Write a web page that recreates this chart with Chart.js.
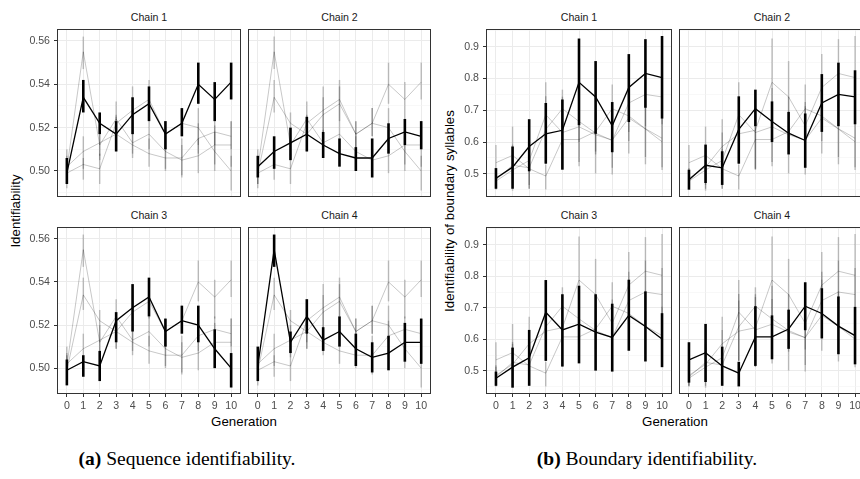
<!DOCTYPE html>
<html>
<head>
<meta charset="utf-8">
<script src="https://cdn.jsdelivr.net/npm/chart.js@4.4.1/dist/chart.umd.min.js"></script>
<style>
  body { margin: 0; background: #fff; width: 860px; height: 479px; overflow: hidden; position: relative;
         font-family: "Liberation Sans", Arial, sans-serif; }
  canvas { position: absolute; }
  .strip { position: absolute; font-size: 10.6px; color: #1a1a1a; transform: translateX(-50%); white-space: nowrap; }
  .xtitle { position: absolute; font-size: 13.3px; color: #000; transform: translateX(-50%); white-space: nowrap; }
  .ytitle { position: absolute; font-size: 13.3px; color: #000; white-space: nowrap;
            transform: translate(-50%, -50%) rotate(-90deg); }
  .caption { position: absolute; font-family: "Liberation Serif", "DejaVu Serif", serif; font-size: 19.5px; color: #000;
             white-space: nowrap; transform: translateX(-50%); }
  .caption b { font-weight: bold; }
</style>
</head>
<body>
<div class="ytitle" style="left:15px; top:211px;">Identifiability</div>
<div class="ytitle" style="left:449px; top:211px;">Identifiability of boundary syllables</div>
<div class="xtitle" style="left:244px; top:414px;">Generation</div>
<div class="xtitle" style="left:675px; top:414px;">Generation</div>
<div class="caption" style="left:187px; top:448px;"><b>(a)</b> Sequence identifiability.</div>
<div class="caption" style="left:647px; top:448px;"><b>(b)</b> Boundary identifiability.</div>

<script>
const generations = [0, 1, 2, 3, 4, 5, 6, 7, 8, 9, 10];
const chainLabels = ['Chain 1', 'Chain 2', 'Chain 3', 'Chain 4'];

// (a) sequence identifiability, one row per chain
const seqMean = [
  [0.499, 0.534, 0.522, 0.517, 0.526, 0.531, 0.517, 0.522, 0.540, 0.533, 0.541],
  [0.502, 0.509, 0.513, 0.517, 0.512, 0.508, 0.506, 0.506, 0.515, 0.518, 0.516],
  [0.499, 0.503, 0.501, 0.522, 0.528, 0.533, 0.517, 0.522, 0.520, 0.509, 0.500],
  [0.501, 0.555, 0.512, 0.524, 0.513, 0.517, 0.509, 0.505, 0.507, 0.512, 0.512]
];
const seqLow = [
  [0.494, 0.527, 0.517, 0.509, 0.517, 0.523, 0.510, 0.516, 0.531, 0.523, 0.533],
  [0.497, 0.501, 0.505, 0.509, 0.506, 0.502, 0.500, 0.497, 0.508, 0.512, 0.510],
  [0.492, 0.496, 0.494, 0.512, 0.517, 0.524, 0.510, 0.516, 0.512, 0.500, 0.491],
  [0.494, 0.547, 0.507, 0.516, 0.508, 0.510, 0.501, 0.498, 0.499, 0.503, 0.502]
];
const seqHigh = [
  [0.506, 0.542, 0.527, 0.523, 0.534, 0.539, 0.523, 0.529, 0.550, 0.541, 0.550],
  [0.507, 0.516, 0.520, 0.525, 0.518, 0.515, 0.511, 0.515, 0.522, 0.524, 0.523],
  [0.504, 0.506, 0.508, 0.526, 0.539, 0.542, 0.523, 0.529, 0.529, 0.518, 0.507],
  [0.510, 0.562, 0.517, 0.532, 0.519, 0.524, 0.516, 0.512, 0.515, 0.521, 0.523]
];
const seqTicks = [0.49, 0.50, 0.51, 0.52, 0.53, 0.54, 0.55, 0.56];
const seqLabels = [0.50, 0.52, 0.54, 0.56];

// (b) boundary identifiability
const bndMean = [
  [0.486, 0.521, 0.586, 0.626, 0.637, 0.788, 0.742, 0.651, 0.772, 0.816, 0.803],
  [0.481, 0.527, 0.519, 0.640, 0.705, 0.665, 0.628, 0.605, 0.723, 0.750, 0.742],
  [0.477, 0.512, 0.542, 0.686, 0.630, 0.648, 0.623, 0.606, 0.676, 0.641, 0.601],
  [0.535, 0.558, 0.516, 0.493, 0.608, 0.608, 0.633, 0.705, 0.682, 0.642, 0.612]
];
const bndLow = [
  [0.453, 0.453, 0.508, 0.532, 0.513, 0.653, 0.626, 0.568, 0.663, 0.708, 0.674],
  [0.450, 0.471, 0.465, 0.532, 0.650, 0.600, 0.561, 0.519, 0.632, 0.650, 0.656],
  [0.453, 0.447, 0.453, 0.532, 0.514, 0.524, 0.501, 0.498, 0.564, 0.530, 0.512],
  [0.463, 0.465, 0.453, 0.451, 0.516, 0.537, 0.570, 0.629, 0.603, 0.553, 0.521]
];
const bndHigh = [
  [0.518, 0.586, 0.672, 0.723, 0.734, 0.926, 0.855, 0.726, 0.877, 0.924, 0.934],
  [0.513, 0.592, 0.571, 0.744, 0.765, 0.728, 0.695, 0.690, 0.814, 0.850, 0.826],
  [0.498, 0.574, 0.630, 0.788, 0.743, 0.770, 0.743, 0.713, 0.789, 0.752, 0.683],
  [0.591, 0.649, 0.577, 0.529, 0.705, 0.676, 0.694, 0.781, 0.762, 0.736, 0.703]
];
const bndTicks = [0.45, 0.5, 0.55, 0.6, 0.65, 0.7, 0.75, 0.8, 0.85, 0.9, 0.95];
const bndLabels = [0.5, 0.6, 0.7, 0.8, 0.9];

const panels = [
  { mean: seqMean, low: seqLow, high: seqHigh, ticks: seqTicks, labels: seqLabels,
    min: 0.488, max: 0.5655, yW: 37, cols: [[57, 241], [248, 431]], fmt: v => v.toFixed(2) },
  { mean: bndMean, low: bndLow, high: bndHigh, ticks: bndTicks, labels: bndLabels,
    min: 0.427, max: 0.956, yW: 31, cols: [[486, 672], [679, 865]], fmt: v => v.toFixed(1) }
];
const rows = [[29, 197], [227, 394]];

const isLabel = (list, v) => list.some(l => Math.abs(l - v) < 1e-6);

const panelBorder = {
  id: 'panelBorder',
  afterDraw(chart) {
    const { ctx, chartArea: a } = chart;
    ctx.save();
    ctx.strokeStyle = '#333';
    ctx.lineWidth = 1;
    ctx.strokeRect(Math.round(a.left) + 0.5, Math.round(a.top) + 0.5,
      Math.round(a.right - a.left) - 1, Math.round(a.bottom - a.top) - 1);
    ctx.restore();
  }
};

function makeFacet(p, chain, row, col) {
  const P = panels[p];
  const [L, R] = P.cols[col];
  const [T, B] = rows[row];
  const showY = col === 0;
  const showX = row === 1;
  const yW = showY ? P.yW : 2;
  const xH = showX ? 20 : 2;

  const cv = document.createElement('canvas');
  cv.width = (R - L) + yW + 2;
  cv.height = (B - T) + 2 + xH;
  cv.style.left = (L - yW) + 'px';
  cv.style.top = (T - 2) + 'px';
  document.body.appendChild(cv);

  const strip = document.createElement('div');
  strip.className = 'strip';
  strip.textContent = chainLabels[chain];
  strip.style.left = ((L + R) / 2) + 'px';
  strip.style.top = (T - 18) + 'px';
  document.body.appendChild(strip);

  const datasets = [];
  for (let k = 0; k < 4; k++) {
    const hi = k === chain;
    const colr = hi ? '#000' : 'rgba(0,0,0,0.22)';
    datasets.push({
      type: 'line',
      data: generations.map((g, i) => ({ x: g, y: P.mean[k][i] })),
      borderColor: colr,
      borderWidth: hi ? 1.3 : 1,
      pointRadius: 0,
      tension: 0,
      order: hi ? 0 : 2
    });
    datasets.push({
      type: 'bar',
      data: generations.map((g, i) => ({ x: g, y: [P.low[k][i], P.high[k][i]] })),
      backgroundColor: colr,
      maxBarThickness: hi ? 2.6 : 1.5,
      grouped: false,
      order: hi ? 1 : 3
    });
  }

  new Chart(cv, {
    type: 'line',
    data: { datasets },
    plugins: [panelBorder],
    options: {
      responsive: false,
      animation: false,
      layout: { padding: { top: 2, right: 2, bottom: 0, left: 0 } },
      plugins: { legend: { display: false }, tooltip: { enabled: false } },
      scales: {
        x: {
          type: 'linear', min: -0.6, max: 10.6, offset: false,
          afterBuildTicks: ax => { ax.ticks = generations.map(v => ({ value: v })); },
          afterFit: ax => { ax.height = xH; ax.paddingLeft = 0; ax.paddingRight = 0; },
          grid: { color: '#ebebeb', lineWidth: 1, offset: false, drawTicks: showX, tickLength: 3, tickColor: '#333' },
          border: { display: false },
          ticks: { display: showX, padding: 3, color: '#4d4d4d', font: { family: 'Liberation Sans', size: 10.6 },
                   callback: v => String(v), maxRotation: 0, autoSkip: false }
        },
        y: {
          type: 'linear', min: P.min, max: P.max,
          afterBuildTicks: ax => { ax.ticks = P.ticks.map(v => ({ value: v })); },
          afterFit: ax => { ax.width = showY ? P.yW : 2; ax.paddingTop = 0; ax.paddingBottom = 0; },
          grid: {
            color: c => isLabel(P.labels, c.tick.value) ? '#ebebeb' : '#f4f4f4',
            lineWidth: c => isLabel(P.labels, c.tick.value) ? 1 : 0.6,
            drawTicks: showY, tickLength: 3,
            tickColor: c => isLabel(P.labels, c.tick.value) ? '#333' : 'rgba(0,0,0,0)'
          },
          border: { display: false },
          ticks: { display: showY, padding: 4, color: '#4d4d4d', font: { family: 'Liberation Sans', size: 10.6 },
                   callback: v => isLabel(P.labels, v) ? P.fmt(v) : '', autoSkip: false }
        }
      }
    }
  });
}

for (let p = 0; p < 2; p++) {
  for (let chain = 0; chain < 4; chain++) {
    makeFacet(p, chain, Math.floor(chain / 2), chain % 2);
  }
}
</script>
</body>
</html>
